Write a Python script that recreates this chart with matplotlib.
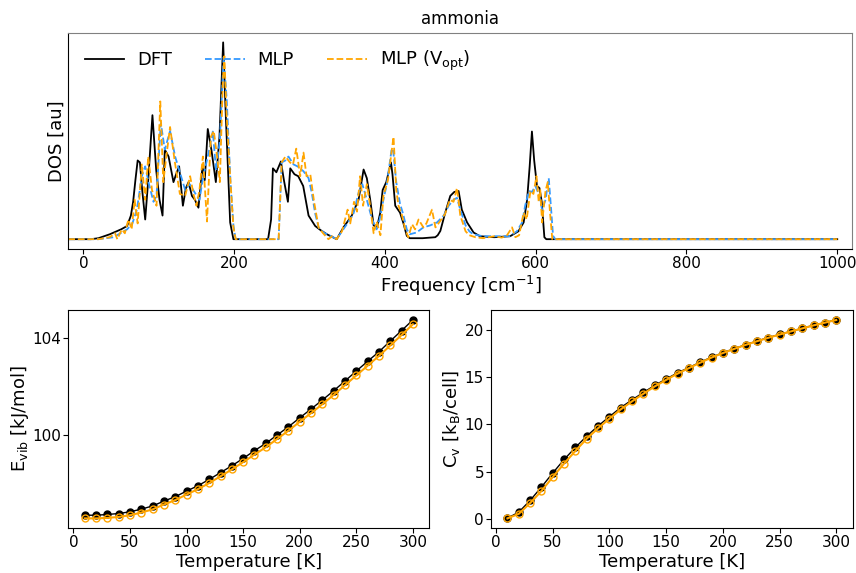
import matplotlib
matplotlib.use("Agg")
import matplotlib.pyplot as plt
import numpy as np

# ---------------- DOS data (frequency in cm^-1, DOS in arbitrary units) ----------------
dft_freq = [-20, 10, 20, 35, 50, 58, 63, 66, 69, 72, 75, 78, 82, 86, 91.6, 96.6, 101, 105, 108, 113,
            119.5, 123, 127, 132, 136, 139.5, 144, 148, 152.6, 158, 161, 165, 170, 175.7, 180.5, 185.4,
            189, 194.7, 199, 245, 249, 251.4, 256, 262, 266, 271.3, 274.4, 280, 285, 291.6, 298.7,
            307.5, 315, 323, 336, 345, 356, 365, 371.7, 376, 380.5, 385, 389.4, 393.8, 397, 401.8,
            408, 410, 413.7, 420, 424.6, 429, 433, 450, 460, 466.8, 470, 473.5, 480, 486.7, 492,
            497.7, 502, 509, 517.6, 526, 545, 566, 577, 584, 588.6, 592, 595, 598, 601.7, 605, 608,
            611.5, 614, 1000]
dft_dos = [0, 0, 0.005, 0.025, 0.05, 0.067, 0.12, 0.19, 0.3, 0.40, 0.39, 0.25, 0.10, 0.3, 0.63, 0.35,
           0.2, 0.12, 0.455, 0.42, 0.29, 0.33, 0.37, 0.17, 0.26, 0.29, 0.22, 0.2, 0.16, 0.37, 0.3, 0.56,
           0.45, 0.29, 0.52, 1.0, 0.62, 0.085, 0, 0, 0.1, 0.36, 0.34, 0.395, 0.3, 0.19, 0.36, 0.33,
           0.32, 0.27, 0.12, 0.067, 0.045, 0.025, 0, 0.06, 0.12, 0.2, 0.354, 0.31, 0.2, 0.07, 0.06,
           0.135, 0.25, 0.29, 0.39, 0.33, 0.17, 0.135, 0.08, 0.017, 0.005, 0.005, 0.008, 0.01, 0.02,
           0.042, 0.135, 0.22, 0.24, 0.245, 0.15, 0.085, 0.034, 0.015, 0.01, 0.015, 0.04, 0.085, 0.2,
           0.37, 0.547, 0.40, 0.27, 0.26, 0.19, 0.01, 0, 0]

mlp_freq = [-20, 20, 40, 58, 65, 71, 77.5, 82, 87, 93, 97, 102.7, 108, 115, 121.7, 128, 135, 141, 148,
            154, 159, 165, 171.7, 176, 181, 186, 190, 195, 199, 202, 259, 263, 268, 272, 278.7, 284,
            292, 298.7, 303, 307.5, 312, 318.6, 331, 336, 343, 349.5, 358, 365, 370, 376, 383, 389,
            393, 398, 402.5, 409, 411, 415, 420, 424, 429, 433, 442, 451, 460, 469, 478, 484.5, 491,
            495.5, 500, 507, 512, 517, 530, 565, 575, 582, 586, 591, 595, 599.6, 604, 608.5, 613,
            617.3, 620.5, 623, 626, 1000]
mlp_dos = [0, 0, 0.01, 0.05, 0.08, 0.15, 0.32, 0.37, 0.28, 0.19, 0.22, 0.59, 0.455, 0.55, 0.42, 0.34,
           0.25, 0.28, 0.235, 0.2, 0.32, 0.42, 0.547, 0.35, 0.5, 0.925, 0.72, 0.3, 0.07, 0, 0, 0.39,
           0.4, 0.42, 0.38, 0.37, 0.345, 0.31, 0.235, 0.13, 0.06, 0.034, 0.01, 0, 0.04, 0.076, 0.126,
           0.235, 0.28, 0.2, 0.10, 0.05, 0.1, 0.2, 0.28, 0.46, 0.45, 0.29, 0.18, 0.13, 0.05, 0.025,
           0.034, 0.06, 0.07, 0.085, 0.12, 0.17, 0.2, 0.21, 0.15, 0.07, 0.04, 0.025, 0.015, 0.015,
           0.04, 0.085, 0.17, 0.245, 0.24, 0.27, 0.23, 0.15, 0.2, 0.31, 0.15, 0.017, 0, 0]

vopt_freq = [-20, 20, 35, 42, 45, 51, 55, 59.7, 64, 68, 72, 77.5, 82, 86, 91, 97, 102, 106, 110, 115,
             121, 128, 135, 141.6, 146, 150, 154, 158.5, 164, 169, 173, 178, 181, 185, 187, 190, 195,
             199, 202, 259, 263, 268, 274, 278, 282.4, 287.6, 292, 296, 301, 306, 312, 318, 325, 330,
             336, 343, 350.5, 354, 359, 363, 367, 371, 376, 380, 385, 389, 394, 398, 404, 408, 411.4,
             415, 418, 422, 427, 431, 436, 440, 444.6, 451, 455, 462.4, 467, 473, 480, 486, 491,
             495.6, 500, 507, 512, 520, 530, 545, 555, 562, 568.6, 573, 578, 584, 588, 593, 597, 601,
             604, 606, 608.5, 613, 616, 619, 622, 1000]
vopt_dos = [0, 0, 0.01, 0.03, 0.0, 0.05, 0.03, 0.10, 0.05, 0.2, 0.08, 0.38, 0.2, 0.42, 0.25, 0.17,
            0.70, 0.29, 0.42, 0.57, 0.4, 0.23, 0.22, 0.32, 0.23, 0.17, 0.25, 0.42, 0.09, 0.52, 0.55,
            0.40, 0.29, 0.8, 0.93, 0.63, 0.3, 0.06, 0, 0, 0.39, 0.42, 0.39, 0.38, 0.46, 0.32, 0.44,
            0.32, 0.33, 0.19, 0.06, 0.03, 0.0, 0.015, 0, 0.04, 0.15, 0.08, 0.19, 0.14, 0.32, 0.17, 0.28,
            0.18, 0.03, 0.09, 0.02, 0.22, 0.3, 0.42, 0.52, 0.25, 0.17, 0.13, 0.05, 0.01, 0.076, 0.05,
            0.10, 0.06, 0.08, 0.15, 0.06, 0.09, 0.13, 0.2, 0.19, 0.26, 0.12, 0.04, 0.02, 0.01, 0.005,
            0.015, 0.008, 0.02, 0.06, 0.01, 0.02, 0.135, 0.1, 0.245, 0.23, 0.32, 0.19, 0.25, 0.085,
            0.245, 0.29, 0.135, 0, 0]

# ---------------- thermodynamics ----------------
temperature = [10, 20, 30, 40, 50, 60, 70, 80, 90, 100, 110, 120, 130, 140, 150, 160, 170, 180, 190,
               200, 210, 220, 230, 240, 250, 260, 270, 280, 290, 300]
evib_dft = [96.71, 96.71, 96.74, 96.78, 96.85, 96.96, 97.09, 97.29, 97.47, 97.70, 97.92, 98.18,
            98.46, 98.74, 99.04, 99.36, 99.66, 100.00, 100.34, 100.71, 101.07, 101.44, 101.82,
            102.22, 102.63, 103.03, 103.42, 103.86, 104.29, 104.73]
evib_mlp = [96.58, 96.58, 96.60, 96.64, 96.71, 96.82, 96.95, 97.15, 97.33, 97.56, 97.78, 98.03,
            98.31, 98.59, 98.89, 99.20, 99.50, 99.84, 100.18, 100.55, 100.90, 101.27, 101.65,
            102.05, 102.45, 102.85, 103.25, 103.68, 104.11, 104.55]
cv_dft = [0.07, 0.71, 1.95, 3.37, 4.86, 6.29, 7.57, 8.77, 9.84, 10.83, 11.79, 12.61, 13.39, 14.14,
          14.82, 15.46, 16.02, 16.59, 17.12, 17.59, 18.02, 18.44, 18.83, 19.19, 19.54, 19.86, 20.18,
          20.50, 20.79, 21.07]
cv_mlp = [0.05, 0.53, 1.67, 2.95, 4.44, 5.86, 7.20, 8.50, 9.60, 10.62, 11.60, 12.45, 13.26, 14.03,
          14.72, 15.38, 15.96, 16.54, 17.08, 17.56, 18.00, 18.42, 18.81, 19.17, 19.52, 19.85, 20.17,
          20.49, 20.78, 21.06]

C_DFT = "black"
C_MLP = "#3399ff"
C_VOPT = "orange"
LABEL_FS = 13
TICK_PAD = 1.5

fig = plt.figure(figsize=(8.56, 5.73), dpi=100)

# ---------------- top: DOS ----------------
ax = fig.add_axes([0.0798, 0.5654, 0.9159, 0.3778])
ax.plot(dft_freq, dft_dos, color=C_DFT, lw=1.3, label="DFT")
ax.plot(mlp_freq, mlp_dos, color=C_MLP, lw=1.3, ls="--", label="MLP")
ax.plot(vopt_freq, vopt_dos, color=C_VOPT, lw=1.3, ls="--", label=r"MLP (V$_{\rm opt}$)")
ax.set_xlim(-20, 1020)
ax.set_ylim(-0.05, 1.05)
ax.set_yticks([])
ax.set_xticks([0, 200, 400, 600, 800, 1000])
ax.tick_params(labelsize=11, pad=TICK_PAD)
ax.set_xlabel(r"Frequency [cm$^{-1}$]", fontsize=LABEL_FS, labelpad=2)
ax.set_ylabel("DOS [au]", fontsize=LABEL_FS, labelpad=2)
ax.set_title("ammonia", fontsize=12)
for s in ("top", "right"):
    ax.spines[s].set_color("0.5")
ax.legend(loc="upper left", ncol=3, frameon=False, fontsize=13, columnspacing=1.85,
          handlelength=2.2, handletextpad=0.7, borderaxespad=0.5)

# ---------------- bottom left: E_vib ----------------
ax1 = fig.add_axes([0.0798, 0.078, 0.4217, 0.381])
ax1.plot(temperature, evib_dft, color=C_DFT, lw=1.0, marker="o", ms=5)
ax1.plot(temperature, evib_mlp, color=C_VOPT, lw=1.5, marker="o", ms=5, mfc="none")
ax1.set_yticks([100, 104])
ax1.set_xticks([0, 50, 100, 150, 200, 250, 300])
ax1.tick_params(labelsize=11, pad=TICK_PAD)
ax1.set_xlabel("Temperature [K]", fontsize=LABEL_FS, labelpad=2)
ax1.set_ylabel(r"E$_{\rm vib}$ [kJ/mol]", fontsize=LABEL_FS, labelpad=1)

# ---------------- bottom right: C_v ----------------
ax2 = fig.add_axes([0.5736, 0.078, 0.4225, 0.381])
ax2.plot(temperature, cv_dft, color=C_DFT, lw=1.0, marker="o", ms=5)
ax2.plot(temperature, cv_mlp, color=C_VOPT, lw=1.5, marker="o", ms=5, mfc="none")
ax2.set_yticks([0, 5, 10, 15, 20])
ax2.set_xticks([0, 50, 100, 150, 200, 250, 300])
ax2.tick_params(labelsize=11, pad=TICK_PAD)
ax2.set_xlabel("Temperature [K]", fontsize=LABEL_FS, labelpad=2)
ax2.set_ylabel(r"C$_{\rm v}$ [k$_{\rm B}$/cell]", fontsize=LABEL_FS, labelpad=2)

fig.savefig("out.png", dpi=100)
